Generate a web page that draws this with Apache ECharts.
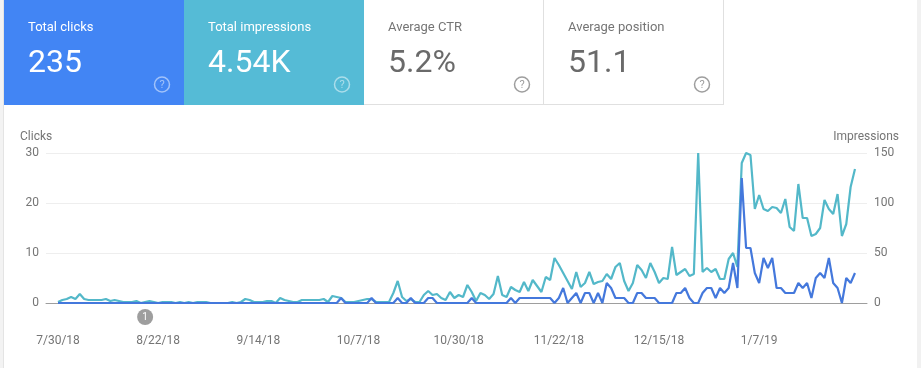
<!DOCTYPE html>
<html><head><meta charset="utf-8">
<style>html,body{margin:0;padding:0;background:#fff}#c{width:921px;height:368px}</style>
<script src="https://cdn.jsdelivr.net/npm/echarts@6/dist/echarts.min.js"></script>
</head><body><div id="c"></div>
<script>
const tickLabels = ['7/30/18','8/22/18','9/14/18','10/7/18','10/30/18','11/22/18','12/15/18','1/7/19'];
const cardTitles = ['Total clicks','Total impressions','Average CTR','Average position'];
const cardValues = ['235','4.54K','5.2%','51.1'];
const clicks = [
0,0,0,0,0,0,0,0,0,0, 0,0,0,0,0,0,0,0,0,0,
0,0,0,0,0,0,0,0,0,0, 0,0,0,0,0,0,0,0,0,0,
0,0,0,0,0,0,0,0,0,0, 0,0,0,0,0,0,0,0,0,0,
0,0,0,0,0,1,0,0,0,0, 0,0,1,0,0,0,0,0,1,0,
0,1,0,0,0,1,1,0,0,0, 0,0,0,0,0,1,0,0,0,0,
0,0,0,0,1,0,1,1,1,1, 1,1,1,1,0,1,3,0,1,2,
0,2,2,0,2,0,4,3,1,1, 1,0,0,2,2,1,1,1,0,0,
0,0,2,2,3,1,0,0,2,3, 3,1,3,2,3,8,3,25,11,11,
6,4,9,7,9,3,3,2,2,2, 4,3,4,1,5,6,5,9,4,3,
0,5,4,6];
const impressions = [
1,3,4,6,4,9,4,3,3,3, 3,4,2,3,2,1,1,1,2,0,
1,2,1,0,1,1,1,0,1,0, 1,0,1,1,1,0,0,0,0,0,
1,0,1,4,3,1,1,1,2,2, 0,5,3,2,1,1,3,3,3,3,
3,4,1,7,6,5,1,1,1,2, 3,4,4,1,1,1,1,10,22,6,
2,4,1,1,8,12,8,9,5,3, 11,5,8,6,18,11,2,10,8,4,
9,27,8,6,16,13,11,21,12,23, 17,11,26,23,45,38,30,22,14,31,
16,20,31,19,21,22,29,24,36,40, 22,12,20,38,33,25,40,31,20,25,
24,56,28,31,34,27,29,150,31,35, 31,34,24,24,44,50,36,140,150,148,
94,108,94,92,96,95,90,104,76,72, 119,85,85,67,69,75,103,94,89,109,
67,79,116,134];
const annotationDay = 20;
const tickEvery = 23;

const FONT = 'Roboto, sans-serif';
const GREY = '#757575';
const toPairs = a => a.map((v, i) => [i, v]);

const cards = [
  {x:4,   fill:'#4285F4', title:'#fff', value:'#fff',    icon:'rgba(255,255,255,0.5)', border:false},
  {x:184, fill:'#55BBD6', title:'#fff', value:'#fff',    icon:'rgba(255,255,255,0.5)', border:false},
  {x:364, fill:'#fff',    title:GREY,   value:'#6a6a6a', icon:'#9e9e9e', border:true},
  {x:544, fill:'#fff',    title:GREY,   value:'#6a6a6a', icon:'#9e9e9e', border:true}
];
const graphic = [
  {type:'rect', shape:{x:0,y:0,width:3,height:368}, style:{fill:'#f3f3f3'}, silent:true},
  {type:'rect', shape:{x:3,y:0,width:1,height:368}, style:{fill:'#e4e4e4'}, silent:true},
  {type:'rect', shape:{x:917,y:0,width:4,height:368}, style:{fill:'#f1f1f1'}, silent:true},
  {type:'rect', shape:{x:4,y:104,width:720,height:1}, style:{fill:'#e0e0e0'}, silent:true}
];
cards.forEach((c, i) => {
  graphic.push({type:'rect', shape:{x:c.x,y:0,width:180,height:c.border?104:105}, style:{fill:c.fill}, silent:true});
  if (c.border) graphic.push({type:'rect', shape:{x:c.x+179,y:0,width:1,height:104}, style:{fill:'#e0e0e0'}, silent:true});
  graphic.push({type:'text', style:{x:c.x+24,y:28,text:cardTitles[i],fill:c.title,font:'13px '+FONT,textVerticalAlign:'middle'}, silent:true});
  graphic.push({type:'text', style:{x:c.x+24,y:64,text:cardValues[i],fill:c.value,font:'32px '+FONT,textVerticalAlign:'middle'}, silent:true});
  graphic.push({type:'circle', shape:{cx:c.x+158,cy:84.5,r:7.5}, style:{fill:'none',stroke:c.icon,lineWidth:1.5}, silent:true});
  graphic.push({type:'text', style:{x:c.x+158,y:85,text:'?',fill:c.icon,font:'11px '+FONT,textAlign:'center',textVerticalAlign:'middle'}, silent:true});
});

const chart = echarts.init(document.getElementById('c'), null, {renderer:'canvas'});
chart.setOption({
  animation:false,
  backgroundColor:'#fff',
  textStyle:{fontFamily:FONT},
  graphic,
  grid:{left:46,right:54,top:153,height:150,containLabel:false},
  xAxis:{
    type:'value', min:-2.76, max:185.76, splitLine:{show:false},
    axisLine:{onZero:false,lineStyle:{color:'#9e9e9e',width:1}},
    axisTick:{show:false},
    axisLabel:{
      customValues:tickLabels.map((_, i) => i*tickEvery),
      formatter:v => tickLabels[Math.round(v/tickEvery)],
      color:GREY,fontSize:12,margin:32,fontFamily:FONT,hideOverlap:false,showMinLabel:true
    }
  },
  yAxis:[
    {type:'value',min:0,max:30,interval:10,name:'Clicks',nameGap:10,
     nameTextStyle:{color:GREY,fontSize:12,fontFamily:FONT,align:'left',padding:[0,0,0,-38]},
     axisLine:{show:false},axisTick:{show:false},
     axisLabel:{color:GREY,fontSize:12,margin:7,fontFamily:FONT,padding:[6,0,0,0]},
     splitLine:{lineStyle:{color:'#eeeeee',width:1}}},
    {type:'value',min:0,max:150,interval:50,name:'Impressions',nameGap:10,position:'right',
     nameTextStyle:{color:GREY,fontSize:12,fontFamily:FONT,align:'right',padding:[0,-32,0,0]},
     axisLine:{show:false},axisTick:{show:false},
     axisLabel:{color:GREY,fontSize:12,margin:7,fontFamily:FONT,padding:[6,0,0,0]},
     splitLine:{show:false}}
  ],
  series:[
    {type:'line',name:'Impressions',yAxisIndex:1,data:toPairs(impressions),showSymbol:false,
     lineStyle:{color:'#53B8C9',width:2.2},itemStyle:{color:'#53B8C9'},clip:false,z:2},
    {type:'line',name:'Clicks',yAxisIndex:0,data:toPairs(clicks),showSymbol:false,
     lineStyle:{color:'#4478DC',width:2.2},itemStyle:{color:'#4478DC'},clip:false,z:3,
     markPoint:{
       symbol:'circle',symbolSize:16,symbolOffset:[0,14],silent:true,
       itemStyle:{color:'#9e9e9e'},
       label:{show:true,position:'inside',color:'#fff',fontSize:10,fontFamily:FONT,formatter:'1'},
       data:[{coord:[annotationDay,0]}]
     }}
  ]
});
</script></body></html>
